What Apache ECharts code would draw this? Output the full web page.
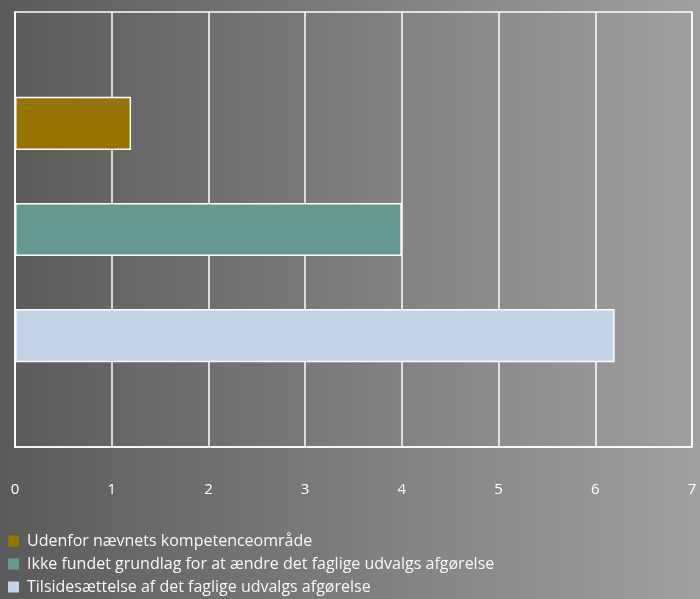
<!DOCTYPE html>
<html>
<head>
<meta charset="utf-8">
<script src="https://cdn.jsdelivr.net/npm/echarts@6/dist/echarts.min.js"></script>
<style>
  html, body { margin: 0; padding: 0; }
  #chart { width: 700px; height: 599px; }
</style>
</head>
<body>
<div id="chart"></div>
<script>
// Series names (legend entries) and their values
const seriesNames = [
  'Udenfor nævnets kompetenceområde',
  'Ikke fundet grundlag for at ændre det faglige udvalgs afgørelse',
  'Tilsidesættelse af det faglige udvalgs afgørelse'
];
const seriesValues = [1.2, 4, 6.2];
const seriesColors = ['#967400', '#65998f', '#c3d3e8'];
const categories = [''];
const xTicks = [0, 1, 2, 3, 4, 5, 6, 7];

const chart = echarts.init(document.getElementById('chart'), null, { renderer: 'canvas' });

const series = seriesNames.map((name, i) => ({
  name: name,
  type: 'bar',
  data: [seriesValues[i]],
  barGap: '100%',
  barCategoryGap: '39%',
  itemStyle: { color: seriesColors[i], borderColor: '#ffffff', borderWidth: 1.5 },
  animation: false
}));

chart.setOption({
  backgroundColor: {
    type: 'linear', x: 0, y: 0, x2: 1, y2: 0,
    colorStops: [
      { offset: 0, color: '#5a5a5a' },
      { offset: 1, color: '#a0a0a0' }
    ]
  },
  animation: false,
  grid: { left: 15, right: 8, top: 12, bottom: 152, show: true, borderColor: '#ffffff', borderWidth: 1.5 },
  legend: {
    orient: 'vertical',
    left: 8,
    top: 533,
    height: 80,
    padding: 0,
    itemWidth: 11,
    itemHeight: 11,
    itemGap: 7,
    icon: 'rect',
    itemStyle: { borderWidth: 0 },
    textStyle: { color: '#f8f8f8', fontSize: 16, fontFamily: 'Open Sans', padding: [0, 0, 0, 3] },
    data: seriesNames
  },
  xAxis: {
    type: 'value',
    min: xTicks[0],
    max: xTicks[xTicks.length - 1],
    interval: 1,
    axisLine: { show: true, lineStyle: { color: '#ffffff', width: 1.5 } },
    axisTick: { show: false },
    splitLine: { show: true, lineStyle: { color: '#ffffff', width: 1.5 } },
    axisLabel: { color: '#ffffff', fontSize: 15, fontFamily: 'Open Sans', margin: 35 }
  },
  yAxis: {
    type: 'category',
    data: categories,
    inverse: true,
    axisLine: { show: true, lineStyle: { color: '#ffffff', width: 1.5 } },
    axisTick: { show: false },
    axisLabel: { show: false }
  },
  series: series
});
</script>
</body>
</html>
